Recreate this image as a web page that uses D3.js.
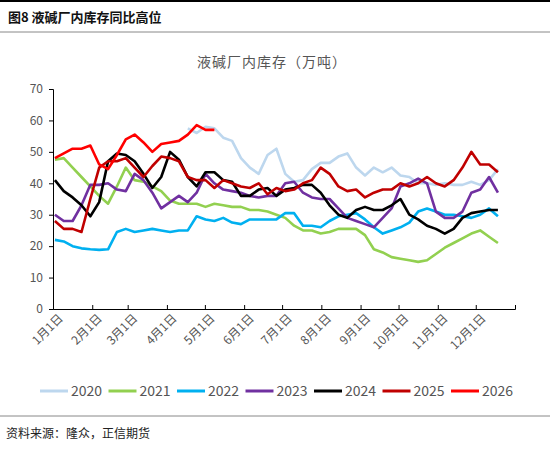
<!DOCTYPE html>
<html><head><meta charset="utf-8">
<script src="https://cdn.jsdelivr.net/npm/d3@7"></script>
<style>body{margin:0;background:#fff}</style>
</head><body>
<script>
// DATA (weekly readings, 万吨)
var years = ["2020","2021","2022","2023","2024","2025","2026"];
var colors = ["#bdd7ee","#92d050","#00b0f0","#7030a0","#000000","#c00000","#ff0000"];
var monthLabels = ["1月1日","2月1日","3月1日","4月1日","5月1日","6月1日","7月1日","8月1日","9月1日","10月1日","11月1日","12月1日"];
var monthDays = [0,31,59,90,120,151,181,212,243,273,304,334];
var yTicks = [0,10,20,30,40,50,60,70];

var v2020 = [null,null,null,null,null,null,null,null,null,null,null,null,null,null,null,57.5,56,58,57.5,54.5,53.5,48,45,43,49,51,43,40.5,41,44.5,46.5,46.5,48.5,49.5,45,42.5,45,43.5,45,42.5,42,40,40,39.5,40,39.5,39.5,40.5,39.5,41,44.5];
var v2021 = [47.5,48,45,42,39,36,33.5,39,45,41,40.5,39,37.5,34.5,33.5,33.5,33.5,32.5,33.5,33,32.5,32.5,31.5,31.5,31,30,29,26.5,25,25,24,24.5,25.5,25.5,25.5,23.5,19,18,16.5,16,15.5,15,15.5,17.5,19.5,21,22.5,24,25,23,21];
var v2022 = [22,21.5,20,19.3,19,18.8,19,24.5,25.5,24.5,25,25.5,25,24.5,25,25,29.5,28.5,28,29,27.5,27,28.5,28.5,28.5,28.5,30.5,30.5,26.5,26.5,26,28,29.5,30,30.5,28.5,26,24,25,26,27.5,31,32,31,30,30,29.5,29,30,32,29.5];
var v2023 = [30,28,28,33,39.5,39.5,40,38,37.5,43,41,37,32,34,36,34,37,43,40,38,37.5,37,36,35.5,36,36,40,40.5,37,35.5,35,35,32,29,28,27,26,29,32,39,40,41.5,40,31,29,29,31,37,38,42,37];
var v2024 = [41,37.5,35.5,33,29.5,34,47,49.5,49,47,43,38.5,42,50,47.5,42,39,43.5,43.5,41,40.5,36,36,38,38.5,36,38,38.5,39.5,39.5,37,33,30,29,31.5,32.5,31.5,31.5,33,35,30,28.5,26.5,25.5,24,25.5,29,30.5,31,31.5,31.5];
var v2025 = [28,25.5,25.5,24.5,35,45,47,47,48,45,42,45.5,48.5,48,47,42,41,41,38.5,41,40,39,38.5,40,36.5,38.5,37.5,38,40,41,45,43,39,37.5,38,35.5,37,38,38,40,39,40,42,40,39,41,45,50,46,46,43.5];
var v2026 = [48,49.5,51,51,52,46,44.5,49,54,55.5,53,50,52.5,53,53.5,55.5,58.5,57,57];
var series = [v2020,v2021,v2022,v2023,v2024,v2025,v2026];

var W = 550, H = 449;
var svg = d3.select("body").append("svg").attr("width",W).attr("height",H)
  .style("font-family","'Noto Sans CJK SC','Noto Sans',sans-serif");

// frame lines
svg.append("line").attr("x1",0).attr("x2",W).attr("y1",1).attr("y2",1).attr("stroke","#000").attr("stroke-width",2);
svg.append("line").attr("x1",0).attr("x2",W).attr("y1",32).attr("y2",32).attr("stroke","#888");
svg.append("line").attr("x1",0).attr("x2",W).attr("y1",416).attr("y2",416).attr("stroke","#888");
svg.append("text").attr("x",8).attr("y",22).attr("font-size",13).attr("font-weight","bold").attr("fill","#111").text("图8  液碱厂内库存同比高位");
svg.append("text").attr("x",6).attr("y",438).attr("font-size",12).attr("fill","#222").text("资料来源：隆众，正信期货");
svg.append("text").attr("x",272).attr("y",67).attr("text-anchor","middle").attr("font-size",14).attr("fill","#555").attr("letter-spacing","1px").text("液碱厂内库存（万吨）");

var x = d3.scaleLinear().domain([0,365]).range([53,515]);
var y = d3.scaleLinear().domain([0,70]).range([309,89]);

var yAx = svg.append("g").attr("transform","translate(53,0)")
  .call(d3.axisLeft(y).tickValues(yTicks).tickSize(4).tickPadding(6));
var xAx = svg.append("g").attr("transform","translate(0,309)")
  .call(d3.axisBottom(x).tickValues(monthDays).tickSize(-4).tickFormat(function(d,i){return monthLabels[i];}));
[yAx,xAx].forEach(function(a){
  a.select(".domain").attr("stroke","#000");
  a.selectAll(".tick line").attr("stroke","#000");
  a.selectAll("text").attr("fill","#555").attr("font-size",12).attr("font-family","'Noto Sans CJK SC',sans-serif");
});
xAx.selectAll("text").attr("text-anchor","end").attr("dy",0).attr("dx",0)
  .attr("transform","translate(8,8) rotate(-45)");

var line = d3.line().defined(function(d){return d!=null;})
  .x(function(d,i){return x(i*7+1.5);}).y(function(d){return y(d);});
series.forEach(function(s,k){
  svg.append("path").datum(s).attr("d",line).attr("fill","none")
    .attr("stroke",colors[k]).attr("stroke-width",2.6).attr("stroke-linejoin","round");
});

// legend
var lg = svg.append("g").attr("transform","translate(40,391)");
years.forEach(function(yr,k){
  var g = lg.append("g").attr("transform","translate("+(k*68.5)+",0)");
  g.append("line").attr("x1",0).attr("x2",28).attr("stroke",colors[k]).attr("stroke-width",3);
  g.append("text").attr("x",31).attr("y",5).attr("font-size",14).attr("fill","#555").text(yr);
});
</script>
</body></html>
